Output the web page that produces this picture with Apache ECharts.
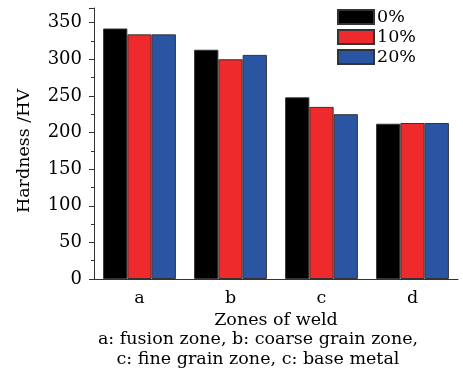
<!DOCTYPE html>
<html><head><meta charset="utf-8">
<script src="https://cdn.jsdelivr.net/npm/echarts@6/dist/echarts.min.js"></script>
<style>html,body{margin:0;padding:0;background:#fff}#c{width:463px;height:369px}</style>
</head><body><div id="c"></div>
<script>
const categories = ['a', 'b', 'c', 'd'];
const seriesNames = ['0%', '10%', '20%'];
const values0 = [342, 313, 248, 212];
const values10 = [334, 300, 235, 213];
const values20 = [334, 306, 225, 213];
const colors = ['#000000', '#ee2a2c', '#2a55a3'];
const captionLines = ['a: fusion zone, b: coarse grain zone,', 'c: fine grain zone, c: base metal'];

const FONT = 'DejaVu Serif';
const FS = 17.5;
const chart = echarts.init(document.getElementById('c'));
const allVals = [values0, values10, values20];
chart.setOption({
  animation: false,
  backgroundColor: '#fff',
  textStyle: { fontFamily: FONT, color: '#000' },
  grid: { left: 94, right: 5, top: 8, bottom: 90, containLabel: false },
  legend: {
    orient: 'vertical', left: 337, top: 8, padding: 0, itemWidth: 36, itemHeight: 14, itemGap: 2,
    textStyle: { fontFamily: FONT, fontSize: FS, color: '#000', padding: [0, 0, 0, -2] },
    data: seriesNames, icon: 'rect'
  },
  xAxis: [{
    type: 'category', data: categories, position: 'bottom',
    axisLine: { lineStyle: { color: '#333', width: 1 } },
    axisTick: { alignWithLabel: true, length: 5, lineStyle: { color: '#333' } },
    axisLabel: { fontFamily: FONT, fontSize: FS, color: '#000', margin: 10 },
    name: 'Zones of weld', nameLocation: 'middle', nameGap: 30,
    nameTextStyle: { fontFamily: FONT, fontSize: FS, color: '#000' }
  }, {
    type: 'category', data: categories, position: 'bottom',
    axisLine: { show: false },
    axisTick: { length: 3, lineStyle: { color: '#333' } },
    axisLabel: { show: false }
  }],
  yAxis: {
    type: 'value', min: 0, max: 370, interval: 50,
    axisLine: { show: true, lineStyle: { color: '#333', width: 1 } },
    axisTick: { show: true, length: 5, lineStyle: { color: '#333' } },
    minorTick: { show: true, splitNumber: 2, length: 3, lineStyle: { color: '#333' } },
    splitLine: { show: false },
    axisLabel: { fontFamily: FONT, fontSize: 18, color: '#000', margin: 12, showMaxLabel: false },
    name: 'Hardness /HV', nameLocation: 'middle', nameGap: 61,
    nameTextStyle: { fontFamily: FONT, fontSize: FS, color: '#000', padding: [0, 15, 0, 0] }
  },
  series: seriesNames.map((n, i) => ({
    name: n, type: 'bar', data: allVals[i], xAxisIndex: 0,
    barGap: 0, barCategoryGap: '20%',
    itemStyle: { color: colors[i], borderColor: '#333', borderWidth: 1 }
  })),
  graphic: captionLines.map((t, i) => ({
    type: 'text', x: 258, y: 330 + i * 20,
    style: { text: t, font: FS + 'px "' + FONT + '"', fill: '#000', textAlign: 'center', textVerticalAlign: 'top' }
  }))
});
</script></body></html>
